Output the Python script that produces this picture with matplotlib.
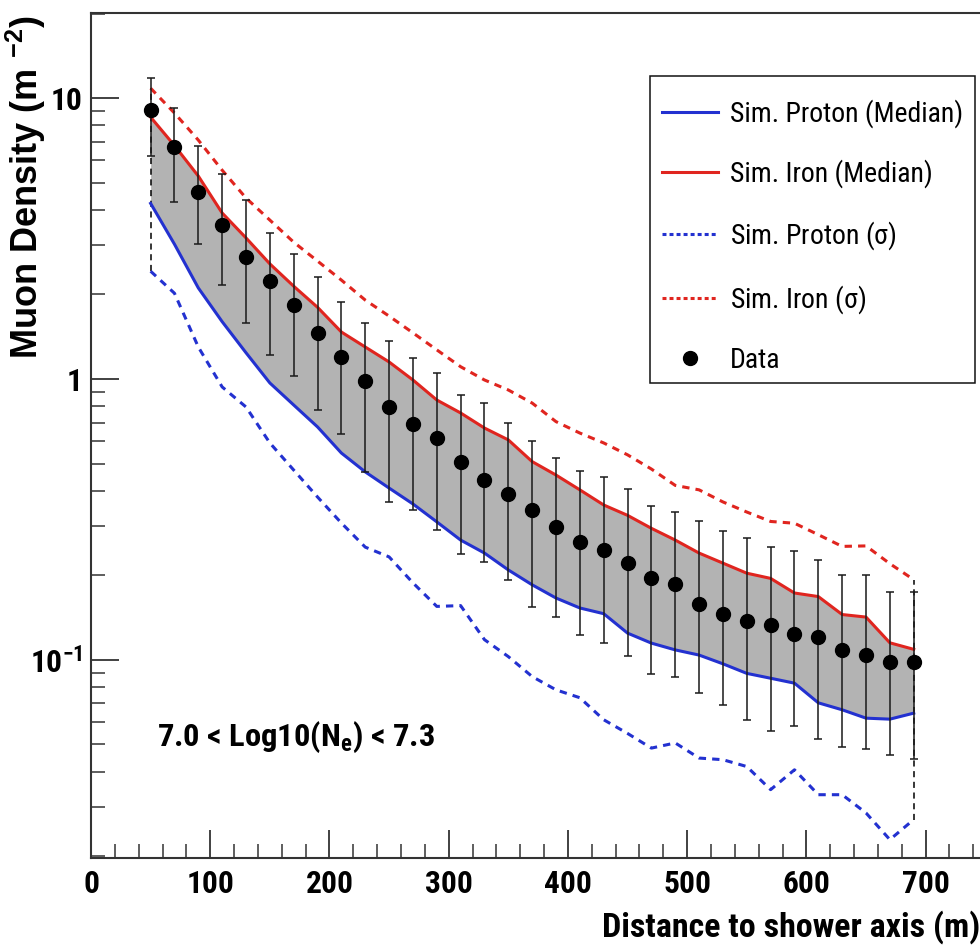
import matplotlib
matplotlib.use("Agg")
import matplotlib.pyplot as plt
from matplotlib import font_manager
from matplotlib.lines import Line2D
from matplotlib.patches import Rectangle
from matplotlib.ticker import FixedLocator, NullFormatter

# distance bins (m)
dist = [50, 70, 90, 110, 130, 150, 170, 190, 210, 230, 250, 270, 290, 310, 330,
        350, 370, 390, 410, 430, 450, 470, 490, 510, 530, 550, 570, 590, 610,
        630, 650, 670, 690]

data = [9.06, 6.71, 4.64, 3.53, 2.72, 2.24, 1.83, 1.46, 1.20, 0.98, 0.797, 0.689,
        0.614, 0.507, 0.437, 0.390, 0.342, 0.297, 0.263, 0.246, 0.221, 0.196,
        0.186, 0.158, 0.146, 0.137, 0.133, 0.124, 0.121, 0.108, 0.104, 0.098, 0.098]
data_hi = [11.75, 9.19, 6.75, 5.35, 4.34, 3.30, 2.79, 2.31, 1.88, 1.58, 1.37, 1.19,
           1.048, 0.874, 0.82, 0.699, 0.603, 0.522, 0.471, 0.449, 0.406, 0.354,
           0.337, 0.313, 0.288, 0.271, 0.253, 0.245, 0.227, 0.201, 0.201, 0.174, 0.174]
data_lo = [6.22, 4.27, 3.03, 2.17, 1.58, 1.22, 1.027, 0.776, 0.635, 0.468, 0.364,
           0.342, 0.289, 0.239, 0.223, 0.193, 0.154, 0.142, 0.123, 0.115, 0.103,
           0.089, 0.087, 0.0765, 0.069, 0.0612, 0.0556, 0.0582, 0.0522, 0.0491,
           0.0481, 0.0459, 0.0443]

iron_med = [8.56, 6.78, 5.28, 3.90, 3.18, 2.57, 2.14, 1.80, 1.47, 1.30, 1.15, 0.992,
            0.842, 0.757, 0.669, 0.607, 0.508, 0.455, 0.403, 0.356, 0.327, 0.294,
            0.267, 0.240, 0.221, 0.2035, 0.195, 0.173, 0.168, 0.145, 0.142, 0.115, 0.109]
iron_sig = [10.85, 8.85, 7.09, 5.54, 4.41, 3.68, 3.07, 2.63, 2.25, 1.91, 1.675, 1.46,
            1.27, 1.106, 0.992, 0.914, 0.821, 0.705, 0.642, 0.592, 0.537, 0.478,
            0.418, 0.403, 0.365, 0.336, 0.311, 0.3065, 0.279, 0.2535, 0.2545, 0.220, 0.193]
prot_med = [4.22, 3.02, 2.11, 1.60, 1.24, 0.968, 0.808, 0.675, 0.545, 0.467, 0.409,
            0.359, 0.310, 0.267, 0.240, 0.209, 0.185, 0.166, 0.153, 0.146, 0.1245,
            0.1147, 0.1085, 0.104, 0.0968, 0.0895, 0.086, 0.0826, 0.0703, 0.0664,
            0.062, 0.0615, 0.0646]
prot_sig = [2.42, 2.02, 1.30, 0.937, 0.795, 0.592, 0.474, 0.380, 0.307, 0.252, 0.2326,
            0.188, 0.155, 0.156, 0.118, 0.1027, 0.0872, 0.0782, 0.0733, 0.0612,
            0.0547, 0.0485, 0.0506, 0.0447, 0.0441, 0.0417, 0.0345, 0.0406, 0.0331,
            0.0331, 0.0285, 0.0229, 0.027]

x_ticks = [0, 100, 200, 300, 400, 500, 600, 700]
y_ticks = [0.1, 1, 10]
y_ticklabels = ['$\\mathregular{10^{-1}}$', '1', '10']

BLUE = '#2331d0'
RED = '#e0251f'

# a narrow grotesque stands in for ROOT's condensed Helvetica
names = {f.name for f in font_manager.fontManager.ttflist}
NARROW, k = 'Liberation Sans', 0.86
for name in ('Roboto Condensed', 'Archivo Narrow'):
    if name in names:
        NARROW, k = name, 1.0
        break

plt.rcParams['font.family'] = [NARROW, 'DejaVu Sans']
plt.rcParams['mathtext.default'] = 'regular'

fig = plt.figure(figsize=(9.8, 9.51), dpi=100)
ax = fig.add_axes([91 / 980, 93 / 951, 889 / 980, 845 / 951])

ax.fill_between(dist, prot_med, iron_med, color='#b3b3b3', lw=0, zorder=1)
for xe, lo, hi in [(dist[0], prot_sig[0], iron_sig[0]), (dist[-1], prot_sig[-1], iron_sig[-1])]:
    ax.plot([xe, xe], [lo, hi], color='black', lw=1.1, dashes=(4, 3), zorder=2)
ax.plot(dist, iron_sig, color=RED, lw=2.2, dashes=(2.4, 2), zorder=3)
ax.plot(dist, prot_sig, color=BLUE, lw=2.2, dashes=(2.4, 2), zorder=3)
ax.plot(dist, iron_med, color=RED, lw=2.2, zorder=3)
ax.plot(dist, prot_med, color=BLUE, lw=2.2, zorder=3)

yerr = [[d - lo for d, lo in zip(data, data_lo)], [hi - d for d, hi in zip(data, data_hi)]]
ax.errorbar(dist, data, yerr=yerr, fmt='o', color='black', ms=10, ecolor='#1a1a1a',
            elinewidth=1.1, capsize=2.9, capthick=1.1, zorder=4)

ax.set_yscale('log')
ax.set_xlim(0, 745.6)
ax.set_ylim(0.0197, 20.1)

ax.xaxis.set_major_locator(FixedLocator(x_ticks))
ax.xaxis.set_minor_locator(FixedLocator(list(range(0, 760, 20))))
ax.yaxis.set_major_locator(FixedLocator(y_ticks))
ax.set_yticklabels(y_ticklabels)
ax.yaxis.set_minor_locator(FixedLocator([m * 10.0 ** e for e in (-2, -1, 0, 1) for m in range(2, 10)]))
ax.yaxis.set_minor_formatter(NullFormatter())

for lab in ax.get_xticklabels() + ax.get_yticklabels():
    lab.set_fontweight('bold')
    lab.set_fontsize(22.7 * k)
ax.tick_params(which='major', direction='in', length=20, width=1.3, color='#333333')
ax.tick_params(which='minor', direction='in', length=10, width=1.1, color='#333333')
ax.tick_params(axis='x', which='major', pad=8)
ax.tick_params(axis='y', which='major', pad=6)

for side in ('left', 'bottom', 'top'):
    ax.spines[side].set_linewidth(1.5)
    ax.spines[side].set_color('#333333')
ax.spines['right'].set_visible(False)

ax.set_xlabel('Distance to shower axis (m)', fontsize=24.5 * k, fontweight='bold',
              loc='right', labelpad=8)
ax.set_ylabel('Muon Density (m $^{-2}$)', fontsize=26, fontweight='bold',
              family=['Liberation Sans', 'DejaVu Sans'], loc='top')
ax.yaxis.set_label_coords(-0.048, 0.997)

ax.text(0.074, 0.143, '7.0 < Log10(N$_{e}$) < 7.3', transform=ax.transAxes,
        fontsize=23.4 * k, fontweight='bold', va='center', ha='left')

# legend box drawn on its own so its size matches the reference
ax.add_patch(Rectangle((0.6288, 0.5621), 0.3656, 0.3633, transform=ax.transAxes,
                       fill=True, facecolor='white', edgecolor='#111111', lw=1.1, zorder=5))
handles = [Line2D([], [], color=BLUE, lw=2.2),
           Line2D([], [], color=RED, lw=2.2),
           Line2D([], [], color=BLUE, lw=2.2, dashes=(1.3, 1)),
           Line2D([], [], color=RED, lw=2.2, dashes=(1.3, 1)),
           Line2D([], [], color='black', marker='o', ms=10, ls='none')]
labels = ['Sim. Proton (Median)', 'Sim. Iron (Median)', 'Sim. Proton ($\\sigma$)',
          'Sim. Iron ($\\sigma$)', 'Data']
leg = ax.legend(handles, labels, loc='upper left', bbox_to_anchor=(0.6423, 0.898),
                fontsize=20 * k, frameon=False, borderaxespad=0, borderpad=0,
                handlelength=2.0, handletextpad=0.43, labelspacing=1.12)
leg.set_zorder(6)

fig.savefig('out.png', dpi=100)
